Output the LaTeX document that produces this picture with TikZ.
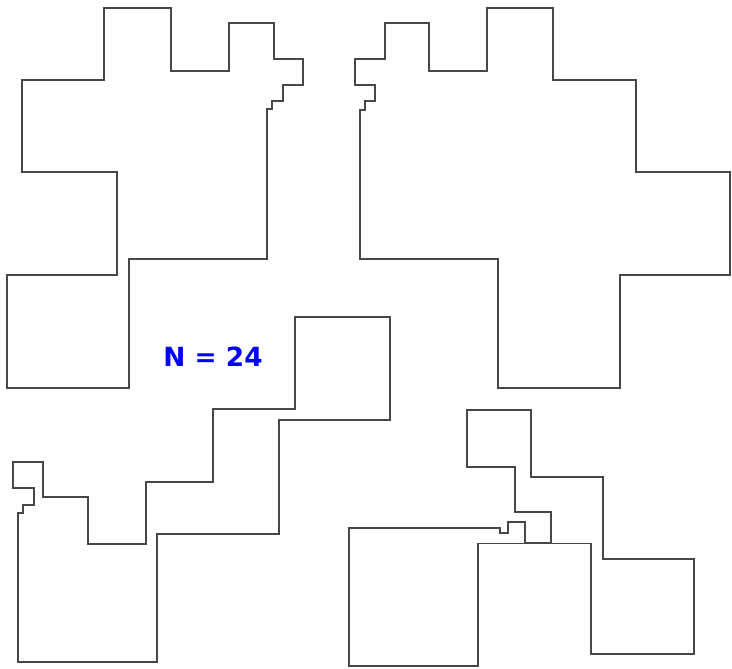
\documentclass[tikz,border=0pt]{standalone}
\usepackage{fontspec}
\newfontfamily\lblfont{DejaVu Sans}
\usetikzlibrary{positioning}
\tikzset{
  blob/.style={draw=black!72,line width=.95pt,line join=miter},
  lbl/.style={font=\lblfont\bfseries\fontsize{22.5}{26}\selectfont,text=blue,inner sep=0pt},
}
\begin{document}
\begin{tikzpicture}[x=0.03cm,y=-0.03cm]
  \useasboundingbox (0,0) rectangle (732,668);
  % top left piece
  \draw[blob] (104,8) -- (171,8) -- (171,71) -- (229,71) -- (229,23) -- (274,23) -- (274,59)
    -- (303,59) -- (303,85) -- (283,85) -- (283,101) -- (272,101) -- (272,109) -- (267,109)
    -- (267,259) -- (129,259) -- (129,388) -- (7,388) -- (7,275) -- (117,275) -- (117,172)
    -- (22,172) -- (22,80) -- (104,80) -- cycle;
  % top right piece
  \draw[blob] (487,8) -- (553,8) -- (553,80) -- (636,80) -- (636,172) -- (730,172) -- (730,275)
    -- (620,275) -- (620,388) -- (498,388) -- (498,259) -- (360,259) -- (360,110) -- (365,110)
    -- (365,101) -- (375,101) -- (375,85) -- (355,85) -- (355,59) -- (385,59) -- (385,23)
    -- (429,23) -- (429,71) -- (487,71) -- cycle;
  % bottom left piece
  \draw[blob] (295,317) -- (390,317) -- (390,420) -- (279,420) -- (279,534) -- (157,534)
    -- (157,662) -- (18,662) -- (18,513) -- (23,513) -- (23,505) -- (34,505) -- (34,488)
    -- (13,488) -- (13,462) -- (43,462) -- (43,497) -- (88,497) -- (88,544) -- (146,544)
    -- (146,482) -- (213,482) -- (213,409) -- (295,409) -- cycle;
  % bottom right piece
  \draw[blob] (349,528) -- (500,528) -- (500,533) -- (508,533) -- (508,522) -- (525,522)
    -- (525,542.5) -- (551,542.5) -- (551,512) -- (515,512) -- (515,467) -- (467,467)
    -- (467,410) -- (531,410) -- (531,477) -- (603,477) -- (603,559) -- (694,559)
    -- (694,654) -- (591,654) -- (591,543.5) -- (478,543.5) -- (478,666) -- (349,666) -- cycle;
  \node[lbl] (count) at (213,357) {N = 24};
\end{tikzpicture}
\end{document}
